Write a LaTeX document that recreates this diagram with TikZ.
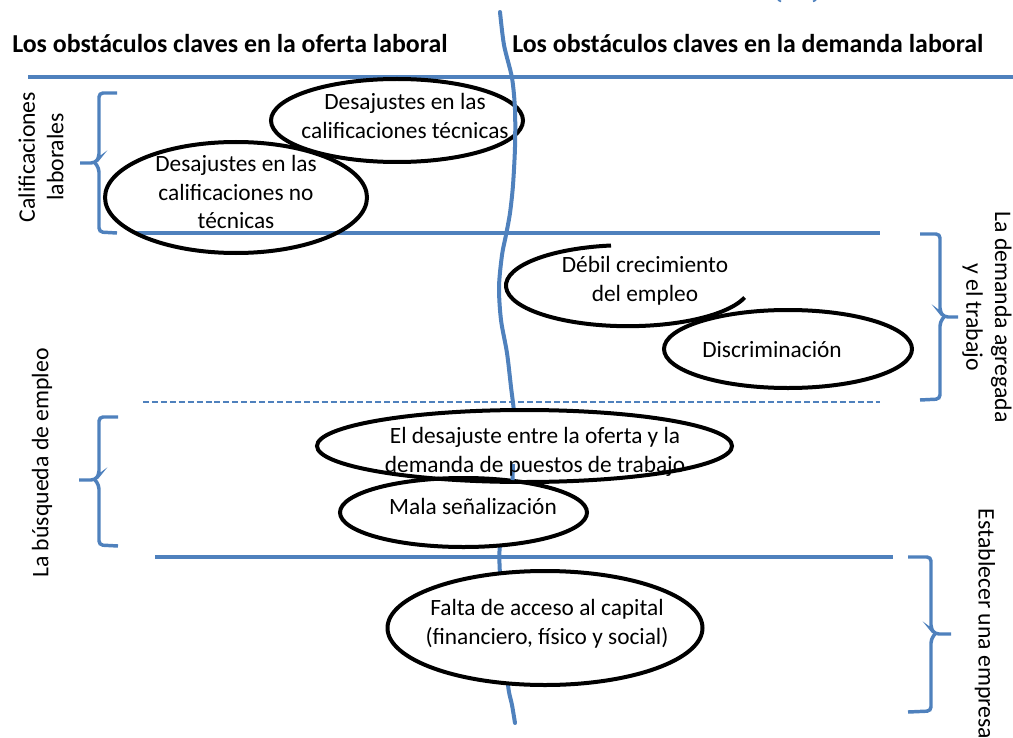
\documentclass[tikz,border=0pt]{standalone}
\usepackage{fontspec}
\setmainfont{Carlito}
\usetikzlibrary{shapes.geometric}
\definecolor{ofblue}{RGB}{79,129,189}
\begin{document}
\begin{tikzpicture}[x=0.75pt,y=-0.75pt,
  hdr/.style={font=\bfseries\fontsize{19.4}{23}\selectfont, inner sep=0pt},
  lbl/.style={font=\fontsize{17.8}{21.5}\selectfont, align=center, inner sep=0pt},
  txt/.style={font=\fontsize{17.5}{21.5}\selectfont, align=center, inner sep=0pt},
  oval/.style={ellipse, draw=black, line width=3pt, inner sep=0pt},
  bl/.style={draw=ofblue, line width=3pt, line cap=round},
  sepline/.style={draw=ofblue, line width=2.3pt},
  thinsep/.style={draw=ofblue, line width=1.1pt, dash pattern=on 4.5pt off 2.2pt},
  bracepath/.style={draw=ofblue, line width=2.6pt, rounded corners=3pt},
]
\useasboundingbox (0,0) rectangle (1013,738);

% tiny fragments at top
\draw[ofblue, line width=1.2pt] (778,0) -- (781,1.5);
\draw[ofblue, line width=1.2pt] (813,1.5) -- (816,0);

% headers
\node[hdr, anchor=base west] (h1) at (12,53) {Los obstáculos claves en la oferta laboral};
\node[hdr, anchor=base west] (h2) at (512,53) {Los obstáculos claves en la demanda laboral};
\draw[ofblue, line width=3.6pt] (28,77) -- (1013,77);

% separators
\draw[sepline] (135,233) -- (880,233);
\draw[thinsep] (143,402) -- (880,402);
\draw[sepline] (155,557) -- (893,557);

% left braces
\draw[bracepath] (117,93) -- (99,93) -- (99,158) -- (95,163) -- (80,163);
\draw[bracepath] (95,163) -- (99,168) -- (99,232) -- (117,233);
\draw[bracepath] (118,417) -- (99,417) -- (99,475) -- (95,480) -- (79,480);
\draw[bracepath] (95,480) -- (99,485) -- (99,545) -- (118,546);
% right braces
\draw[bracepath] (920,234) -- (940,234) -- (940,312) -- (944,317) -- (958,317);
\draw[bracepath] (944,317) -- (940,322) -- (940,399) -- (920,400);
\draw[bracepath] (908,557) -- (931,557) -- (931,629) -- (935,634) -- (951,634);
\draw[bracepath] (935,634) -- (931,639) -- (931,711) -- (908,712);

% side labels
\node[lbl, rotate=90] (l1) at (41,157) {Calificaciones\\laborales};
\node[lbl, rotate=90] (l2) at (42,463) {La búsqueda de empleo};
\node[lbl, rotate=-90] (l3) at (987,317) {La demanda agregada\\y el trabajo};
\node[lbl, rotate=-90] (l4) at (985,624) {Establecer una empresa};

% upper ellipses
\node[oval, minimum width=189pt, minimum height=62.25pt] (e1) at (397,120.5) {};
\node[oval, minimum width=196.5pt, minimum height=83.25pt] (e2) at (236,197.5) {};
\draw[black, line width=3pt] (611,245.5) arc[start angle=98, end angle=343, x radius=91.5pt, y radius=30.4pt];
\node[oval, minimum width=186pt, minimum height=58.5pt] (e4) at (788,349) {};

% vertical divider
\draw[bl] plot[smooth] coordinates {(500,12) (504,45) (512,78) (515,110) (515,147) (513,185) (510,213) (506,235) (502,255) (499,287) (501,320) (507,353) (511,387) (514,413) (514,440) (513,470) (508,510) (500,545) (500,575) (504,630) (508,685) (512,705) (515,723)};

% lower ellipses (filled)
\fill[white] (524.5,446) ellipse [x radius=155.6pt, y radius=27pt];
\fill[white] (463.5,512.5) ellipse [x radius=92.6pt, y radius=25.9pt];
\fill[white] (545,628) ellipse [x radius=118.1pt, y radius=42.75pt];
\node[oval, minimum width=311.25pt, minimum height=54pt] (e5) at (524.5,446) {};
\node[oval, minimum width=185.25pt, minimum height=51.75pt] (e6) at (463.5,512.5) {};
\node[oval, minimum width=236.25pt, minimum height=85.5pt] (e7) at (545,628) {};
\draw[bl, line cap=butt] (513,464) -- (512.5,480);

% texts
\node[txt] (t1) at (405,116) {Desajustes en las\\calificaciones técnicas};
\node[txt] (t2) at (236,192) {Desajustes en las\\calificaciones no\\técnicas};
\node[txt] (t3) at (645,281) {Débil crecimiento\\del empleo};
\node[txt] (t4) at (772,350) {Discriminación};
\node[txt] (t5) at (535,452) {El desajuste entre la oferta y la\\demanda de puestos de trabajo};
\node[txt] (t6) at (473,506) {Mala señalización};
\node[txt] (t7) at (547,624) {Falta de acceso al capital\\(financiero, físico y social)};
\end{tikzpicture}
\end{document}
